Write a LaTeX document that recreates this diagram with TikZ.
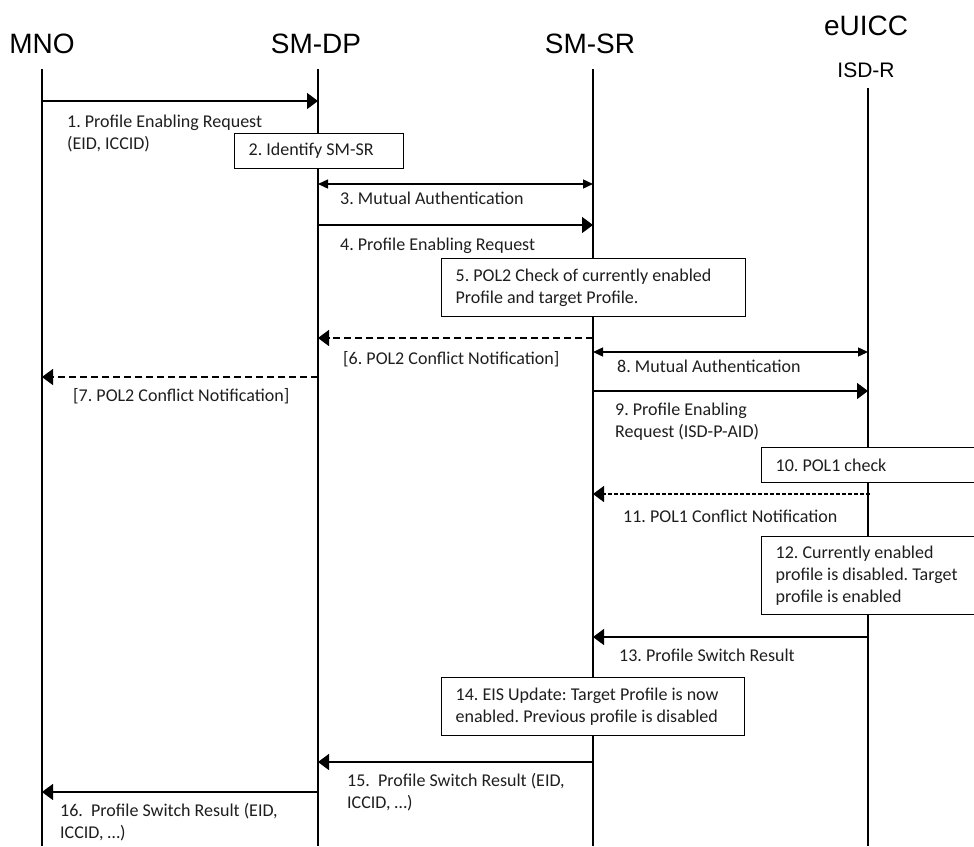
\documentclass[tikz,border=0pt]{standalone}
\usepackage{fontspec}
\setmainfont{Carlito}
\newfontfamily\hdrfont{Liberation Sans}
\usetikzlibrary{arrows.meta}
\definecolor{txt}{RGB}{30,30,30}
\begin{document}
\frenchspacing
\begin{tikzpicture}[x=1pt,y=-1pt,
  life/.style={line width=1.5pt},
  msg/.style={line width=1.4pt,-{Triangle[length=11pt,width=16pt]}},
  dmsg/.style={line width=1.4pt,{Triangle[length=10pt,width=9pt]}-{Triangle[length=10pt,width=9pt]}},
  rmsg/.style={msg,dash pattern=on 7pt off 4pt},
  fmsg/.style={msg,dash pattern=on 4pt off 2pt},
  hdr/.style={font=\hdrfont\fontsize{28}{32}\selectfont,inner sep=0pt,anchor=base},
  subhdr/.style={font=\hdrfont\fontsize{21}{24}\selectfont,inner sep=0pt,anchor=base},
  lbl/.style={font=\fontsize{18}{22}\selectfont\frenchspacing,text=txt,inner sep=0pt,anchor=north west,align=left},
  note/.style={draw,line width=1.3pt,fill=white,anchor=north west,inner xsep=14pt,inner ysep=0pt,
    font=\fontsize{18}{22}\selectfont\frenchspacing,text=txt,align=flush left},
]
\useasboundingbox (0,0) rectangle (974,846);
\clip (0,0) rectangle (974,846);

% headers
\node[hdr] (mno) at (42,53) {MNO};
\node[hdr] (smdp) at (316,53) {SM-DP};
\node[hdr] (smsr) at (590,53) {SM-SR};
\node[hdr] (euicc) at (866,35) {eUICC};
\node[subhdr] (isdr) at (866,77) {ISD-R};

% lifelines
\coordinate (mnoT) at (42,69);  \coordinate (mnoB) at (42,846);
\coordinate (dpT) at (318,69);  \coordinate (dpB) at (318,846);
\coordinate (srT) at (593,69);  \coordinate (srB) at (593,846);
\coordinate (isT) at (868,88);  \coordinate (isB) at (868,846);
\draw[life] (mnoT) -- (mnoB);
\draw[life] (dpT) -- (dpB);
\draw[life] (srT) -- (srB);
\draw[life] (isT) -- (isB);

% message rows
\coordinate (y1) at (0,101);
\coordinate (y3) at (0,184);
\coordinate (y4) at (0,225);
\coordinate (y6) at (0,338);
\coordinate (y7) at (0,377);
\coordinate (y8) at (0,352);
\coordinate (y9) at (0,391);
\coordinate (y11) at (0,494);
\coordinate (y13) at (0,637);
\coordinate (y15) at (0,762);
\coordinate (y16) at (0,792);

\draw[msg]  (mnoT |- y1) -- (dpT |- y1);
\draw[dmsg] (dpT |- y3) -- (srT |- y3);
\draw[msg]  (dpT |- y4) -- (srT |- y4);
\draw[rmsg] (srT |- y6) -- (dpT |- y6);
\draw[rmsg] (dpT |- y7) -- (mnoT |- y7);
\draw[dmsg] (srT |- y8) -- (isT |- y8);
\draw[msg]  (srT |- y9) -- (isT |- y9);
\draw[fmsg] ([xshift=2pt]isT |- y11) -- (srT |- y11);
\draw[msg]  (isT |- y13) -- (srT |- y13);
\draw[msg]  (srT |- y15) -- (dpT |- y15);
\draw[msg]  (dpT |- y16) -- (mnoT |- y16);

% boxes
\node[note,text width=141pt,minimum width=169pt,minimum height=35pt] (b2) at (234,133) {2. Identify SM-SR};
\node[note,text width=276pt,minimum width=304pt,minimum height=58pt] (b5) at (441,258) {5. POL2 Check of currently enabled\\Profile and target Profile.};
\node[note,text width=212pt,minimum width=240pt,minimum height=35pt] (b10) at (761,447) {10. POL1 check};
\node[note,text width=212pt,minimum width=240pt,minimum height=78pt] (b12) at (761,536) {12. Currently enabled\\profile is disabled. Target\\profile is enabled};
\node[note,text width=275pt,minimum width=303pt,minimum height=58pt] (b14) at (441,677) {14. EIS Update: Target Profile is now\\enabled. Previous profile is disabled};

% labels
\node[lbl] (l1) at (67,111.6) {\strut 1. Profile Enabling Request\\(EID, ICCID)};
\node[lbl] (l3) at (340,188.6) {\strut 3. Mutual Authentication};
\node[lbl] (l4) at (340,234.6) {\strut 4. Profile Enabling Request};
\node[lbl] (l6) at (343,348.6) {\strut [6. POL2 Conflict Notification]};
\node[lbl] (l7) at (73,385.6) {\strut [7. POL2 Conflict Notification]};
\node[lbl] (l8) at (617,356.6) {\strut 8. Mutual Authentication};
\node[lbl] (l9) at (615,399.6) {\strut 9. Profile Enabling\\Request (ISD-P-AID)};
\node[lbl] (l11) at (623,506.6) {\strut 11. POL1 Conflict Notification};
\node[lbl] (l13) at (619,645.6) {\strut 13. Profile Switch Result};
\node[lbl] (l15) at (347,770.6) {\strut 15.\ \ Profile Switch Result (EID,\\ICCID, …)};
\node[lbl] (l16) at (60,800.6) {\strut 16.\ \ Profile Switch Result (EID,\\ICCID, …)};
\end{tikzpicture}
\end{document}
